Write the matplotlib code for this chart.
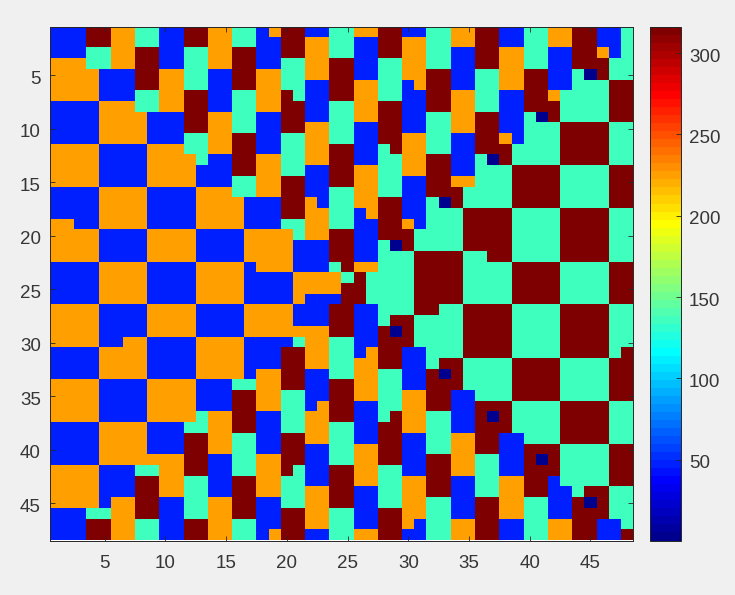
import re
import numpy as np
import matplotlib
matplotlib.use("Agg")
import matplotlib.pyplot as plt
from matplotlib.colors import ListedColormap
from matplotlib.transforms import ScaledTranslation

plt.rcParams['font.family'] = ['Liberation Sans', 'DejaVu Sans']

# cell values for each letter
levels = {'N': 1, 'B': 48, 'T': 136, 'O': 225, 'R': 316}

# one string per column, left to right, top to bottom, letter + run length
columns = [
    "B3 O4 B4 O4 B3 O4 B4 O4 B3 O4 B4 O4 B3",
    "B3 O4 B4 O4 B3 O4 B4 O4 B3 O4 B4 O4 B3",
    "B3 O4 B4 O4 B4 O3 B4 O4 B3 O4 B4 O4 B3",
    "R2 T2 O3 B4 O4 B4 O3 B4 O4 B3 O4 B4 O4 T1 R2",
    "R2 T2 B3 O4 B4 O4 B3 O4 B4 O3 B4 O4 B4 T1 R2",
    "O4 B3 O4 B4 O4 B3 O4 B4 O3 B4 O4 B3 O4",
    "O4 B3 O4 B4 O4 B3 O4 B3 O4 B4 O4 B3 O4",
    "T2 R4 T2 O3 B4 O4 B3 O4 B3 O4 B4 O4 T1 R4 T2",
    "T2 R4 T2 B3 O4 B4 O3 B4 O3 B4 O4 B3 O1 T1 R4 T2",
    "B4 O4 B3 O4 B4 O3 B4 O3 B4 O4 B3 O4 B4",
    "B4 O4 B3 O4 B4 O3 B4 O3 B4 O4 B3 O4 B4",
    "R2 T4 R4 T2 O3 B4 O3 B4 O3 B4 O4 T1 R4 T4 R2",
    "R2 T4 R4 T3 B2 O4 B3 O4 B3 O4 B3 T2 R4 T4 R2",
    "O4 B4 O4 B3 O4 B3 O4 B3 O4 B3 O4 B4 O4",
    "O4 B4 O4 B3 O4 B3 O4 B3 O4 B3 O4 B4 O4",
    "T2 R4 T4 R4 T2 O3 B3 O4 B3 O4 T1 R4 T4 R4 T2",
    "T2 R4 T4 R4 T2 B3 O3 B4 O3 B4 T1 R4 T4 R4 T2",
    "B4 O4 B4 O4 B3 O4 B3 O3 B3 O4 B4 O4 B4",
    "O1 B3 O4 B4 O4 B3 O4 B3 O3 B3 O4 B4 O4 B3 O1",
    "R3 T3 R4 T4 R4 T1 O4 B3 O3 B1 R4 T4 R4 T3 R3",
    "R3 T4 R3 T4 R4 T2 B3 O3 B2 O1 T1 R4 T4 R3 T4 R3",
    "B1 O4 B4 O4 B3 O4 B3 O2 B3 O4 B4 O3 B4 O4 B1",
    "B1 O4 B4 O4 B4 O3 B3 O2 B3 O4 B3 O4 B4 O4 B1",
    "T3 R4 T4 R4 T4 R3 T1 O2 B1 R3 T4 R4 T4 R4 T3",
    "T3 R4 T4 R4 T4 R4 T1 R5 T4 R4 T4 R4 T3",
    "O1 B4 O4 B4 O4 B5 O1 R3 B5 O4 B4 O4 B4 O1",
    "O1 B4 O4 B4 O5 B4 O1 T3 B4 O5 B4 O4 B4 O1",
    "R3 T4 R4 T5 R4 T8 R4 T5 R4 T4 R3",
    "R3 T4 R5 T4 R4 N1 T6 R1 N1 R3 T4 R5 T4 R3",
    "B1 O4 B5 O4 B4 O1 R2 T6 R3 B4 O4 B4 O5 B1",
    "B1 O5 B4 O4 B5 T2 R6 T3 B4 O4 B4 O4 B2",
    "T4 R4 T4 R4 T5 R6 T5 R4 T4 R4 T4",
    "T4 R4 T4 R4 N1 T4 R5 T5 R1 N1 R3 T4 R4 T4",
    "O2 B4 O4 B4 O1 R2 T4 R5 T5 R3 B4 O4 B4 O2",
    "O2 B4 O4 B4 O1 T2 R4 T5 R5 T3 B4 O4 B4 O2",
    "R4 T4 R4 T5 R4 T5 R5 T4 R5 T4 R4",
    "R4 T4 R4 N1 T4 R5 T4 R5 T4 R1 N1 R3 T4 R4",
    "B2 O4 B4 O1 R2 T4 R5 T4 R5 T4 R3 B4 O4 B2",
    "B2 O4 B5 T2 R4 T5 R4 T5 R4 T3 B4 O4 B2",
    "T4 R4 T5 R4 T5 R4 T5 R4 T4 R5 T4",
    "T4 R4 N1 T4 R4 T5 R4 T5 R4 T4 R1 N1 R3 T4",
    "O2 B4 O1 R2 T4 R4 T5 R4 T5 R4 T4 R3 B4 O2",
    "O2 B4 T3 R4 T4 R5 T4 R5 T4 R4 T4 B3 O2",
    "R4 T5 R4 T4 R5 T4 R5 T4 R4 T5 R4",
    "R4 N1 T4 R4 T4 R5 T4 R5 T4 R4 T4 R1 N1 R3",
    "B2 O1 R2 T4 R4 T4 R5 T4 R5 T4 R4 T4 R3 B2",
    "B3 T2 R4 T4 R4 T5 R4 T5 R4 T4 R4 T3 B2",
    "T5 R4 T4 R4 T5 R4 T4 R5 T4 R4 T4 R1",
]

x_ticks = [5, 10, 15, 20, 25, 30, 35, 40, 45]
y_ticks = [5, 10, 15, 20, 25, 30, 35, 40, 45]
cbar_ticks = [50, 100, 150, 200, 250, 300]


def expand(col):
    out = []
    for letter, count in re.findall(r'([A-Z])(\d+)', col):
        out += [levels[letter]] * int(count)
    return out


def matlab_jet(m=64):
    # the 64 step jet of the reference, mpl's own jet has its yellow further up
    n = 16
    u = np.r_[np.arange(1, n + 1) / n, np.ones(n - 1), np.arange(n, 0, -1) / n]
    g = 8 + np.arange(len(u))
    r = g + n
    b = g - n
    rgb = np.zeros((m, 3))
    rgb[r[r < m], 0] = u[r < m]
    rgb[g[g < m], 1] = u[g < m]
    rgb[b[b >= 0], 2] = u[b >= 0]
    return ListedColormap(rgb)


cols = [expand(c) for c in columns]
for i, c in enumerate(cols):
    assert len(c) == 48, (i + 1, len(c))
grid = np.array(cols).T

W, H = 735, 595
bg = '#f0f0f0'
dark = '#262626'
text = '#363636'

fig = plt.figure(figsize=(W / 100, H / 100), dpi=100, facecolor=bg)
ax = fig.add_axes([50 / W, 1 - 540.5 / H, 583 / W, 513.5 / H])
im = ax.imshow(grid, cmap=matlab_jet(), vmin=0.3, vmax=316, aspect='auto',
               interpolation='nearest', extent=[0.5, 48.5, 48.5, 0.5])
ax.set_xticks(x_ticks)
ax.set_yticks(y_ticks)
ax.tick_params(direction='in', length=3.6, width=0.6, color=dark, labelcolor=text,
               labelsize=13.5, top=True, right=True)
ax.tick_params(axis='x', pad=10.5)
ax.tick_params(axis='y', pad=6.5)
for s in ax.spines.values():
    s.set_linewidth(0.7)
    s.set_color(dark)

cax = fig.add_axes([649.5 / W, 1 - 540.5 / H, 31.5 / W, 513.5 / H])
cb = fig.colorbar(im, cax=cax, ticks=cbar_ticks)
cb.ax.tick_params(direction='in', length=3.6, width=0.6, color=dark, labelcolor=text,
                  labelsize=13.5, pad=5.8)
cb.outline.set_linewidth(0.7)
cb.outline.set_edgecolor(dark)

# labels sit 2 px under their ticks in the reference
shift = ScaledTranslation(0, -2 / 100, fig.dpi_scale_trans)
for lab in ax.get_yticklabels() + cb.ax.get_yticklabels():
    lab.set_transform(lab.get_transform() + shift)

fig.savefig('out.png', dpi=100, facecolor=bg)
